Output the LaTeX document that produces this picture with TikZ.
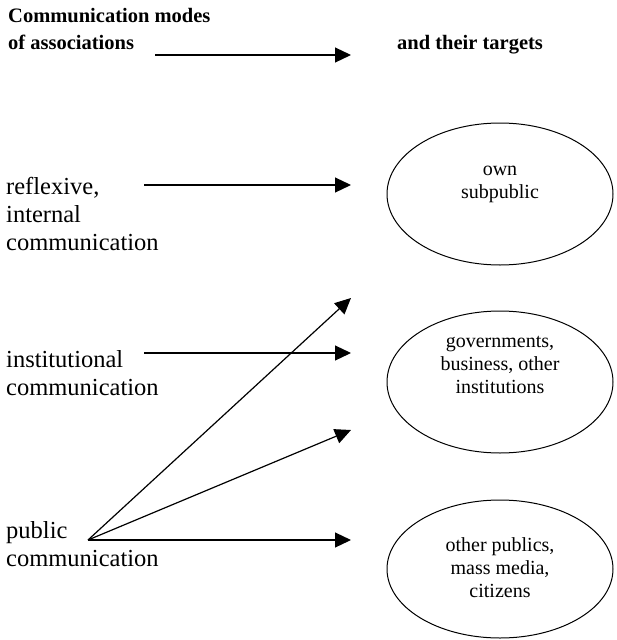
\documentclass[tikz,border=0pt]{standalone}
\usepackage{fontspec}
\setmainfont{Liberation Serif}
\usetikzlibrary{arrows.meta,shapes.geometric}
\begin{document}
% Multi-line nodes are placed by the baseline of their last line.
\begin{tikzpicture}[x=1pt,y=-1pt,
  lbl/.style={anchor=base west,inner sep=0pt,align=left,font=\fontsize{24.5}{28}\selectfont},
  head/.style={anchor=base west,inner sep=0pt,align=left,font=\fontsize{20.5}{27}\selectfont\bfseries},
  target/.style={draw,ellipse,line width=1pt,minimum width=226pt,minimum height=142pt,inner sep=0pt},
  tgtext/.style={anchor=base,inner sep=0pt,align=center,font=\fontsize{20}{23}\selectfont},
  link/.style={line width=1.2pt,-{Triangle[length=16pt,width=15pt]}}]
\useasboundingbox (0,0) rectangle (616,640);

% column headings
\node[head] (modes) at (8,49) {Communication modes\\of associations};
\node[head] (targets) at (397,49) {and their targets};
\coordinate (h0) at (155,55);
\coordinate (h1) at (351,55);
\draw[link] (h0) -- (h1);

% communication modes
\node[lbl] (refl) at (6,250) {reflexive,\\internal\\communication};
\node[lbl] (inst) at (6,395) {institutional\\communication};
\node[lbl] (publ) at (6,566) {public\\communication};

% targets
\node[target] (own) at (500,194) {};
\node[target] (gov) at (500,382) {};
\node[target,minimum height=138pt] (oth) at (500,569) {};
\node[tgtext] (ownt) at (500,198) {own\\subpublic};
\node[tgtext] (govt) at (500,393) {governments,\\business, other\\institutions};
\node[tgtext] (otht) at (500,597) {other publics,\\mass media,\\citizens};

% arrows
\coordinate (r0) at (144,185);
\coordinate (r1) at (351,185);
\coordinate (i0) at (144,353);
\coordinate (i1) at (351,353);
\coordinate (p0) at (88,540);
\coordinate (pa) at (351,298);
\coordinate (pb) at (351,430);
\coordinate (pc) at (351,540);
\draw[link] (r0) -- (r1);
\draw[link] (i0) -- (i1);
\draw[link] (p0) -- (pa);
\draw[link] (p0) -- (pb);
\draw[link] (p0) -- (pc);
\end{tikzpicture}
\end{document}
